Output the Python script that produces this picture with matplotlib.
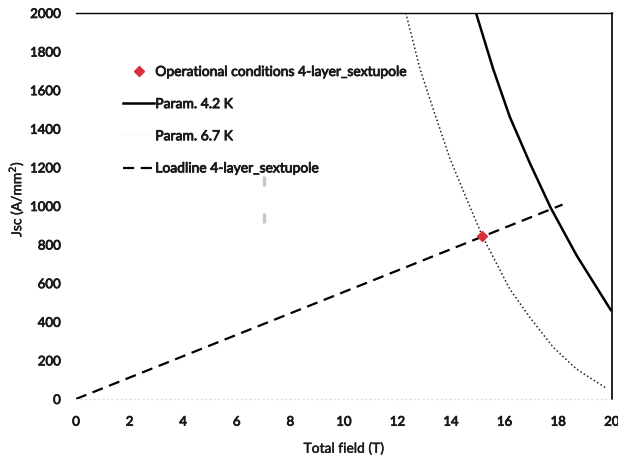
import matplotlib
matplotlib.use("Agg")
import matplotlib.pyplot as plt
import matplotlib.patheffects as pe

plt.rcParams['font.family'] = ['Lato', 'DejaVu Sans']

# Data
b_42 = [14.93, 15.57, 16.19, 16.94, 17.72, 18.68, 19.96]
j_42 = [2000, 1710, 1462, 1222, 990, 745, 461]

b_67 = [12.31, 12.84, 13.33, 13.96, 14.58, 15.17, 16.19, 16.94, 17.81, 18.68, 19.8]
j_67 = [2000, 1710, 1503, 1244, 1036, 843, 570, 423, 268, 155, 55]

b_load = [0, 18.16]
j_load = [0, 1007]

b_op = [15.17]
j_op = [843]

b_smudge = [7.0, 7.0]
j_smudge = [1130, 940]

x_ticks = list(range(0, 21, 2))
y_ticks = list(range(0, 2001, 200))

fig = plt.figure(figsize=(6.18, 4.64), dpi=100)
ax = fig.add_axes([0.123, 0.138, 0.867, 0.832])

ax.plot(b_op, j_op, linestyle='none', marker='D', color='#d8303a', markersize=5,
        label='Operational conditions 4-layer_sextupole', zorder=5)
ax.plot(b_42, j_42, color='black', lw=1.8, label='Param. 4.2 K')
ax.plot(b_67, j_67, color='#222222', lw=1.1, linestyle=(0, (1, 1.6)), label='Param. 6.7 K')
ax.plot(b_load, j_load, color='black', lw=1.6, linestyle=(0, (5, 3)),
        label='Loadline 4-layer_sextupole')
ax.plot(b_smudge, j_smudge, linestyle='none', marker='|', markersize=7,
        markeredgewidth=2.5, color='#9a9a9a', alpha=0.55)

ax.set_xlim(0, 20)
ax.set_ylim(0, 2000)
ax.set_xticks(x_ticks)
ax.set_yticks(y_ticks)
ax.tick_params(length=0, labelsize=9.5, labelcolor='#1a1a1a')
ax.tick_params(axis='x', pad=12)
ax.tick_params(axis='y', pad=11)

stroke = [pe.withStroke(linewidth=0.6, foreground='#1a1a1a')]
for lab in ax.get_xticklabels() + ax.get_yticklabels():
    lab.set_path_effects(stroke)

ax.spines['left'].set_visible(False)
ax.spines['bottom'].set_color('#dddddd')
ax.spines['bottom'].set_linestyle((0, (1, 3)))
ax.spines['top'].set_linewidth(1.0)
ax.spines['right'].set_linewidth(1.2)

ax.set_xlabel('Total field (T)', fontsize=10, color='#1a1a1a')
ax.xaxis.set_label_coords(0.5, -0.112)
ax.xaxis.label.set_path_effects([pe.withStroke(linewidth=0.3, foreground='#1a1a1a')])
fig.text(16 / 618, 1 - 200 / 464, 'Jsc (A/mm$^2$)', rotation=90, fontsize=10,
         color='#1a1a1a', ha='center', va='center',
         path_effects=[pe.withStroke(linewidth=0.3, foreground='#1a1a1a')])

leg = ax.legend(loc='upper left', bbox_to_anchor=(0.065, 0.895), frameon=False,
                fontsize=10, labelspacing=1.45, handlelength=2.2, handletextpad=0.1)
for t in leg.get_texts():
    t.set_color('#1a1a1a')
    t.set_path_effects(stroke)
# legend 6.7K handle is practically invisible in the reference
leg.get_lines()[2].set_alpha(0.05)

fig.savefig('out.png', dpi=100)
